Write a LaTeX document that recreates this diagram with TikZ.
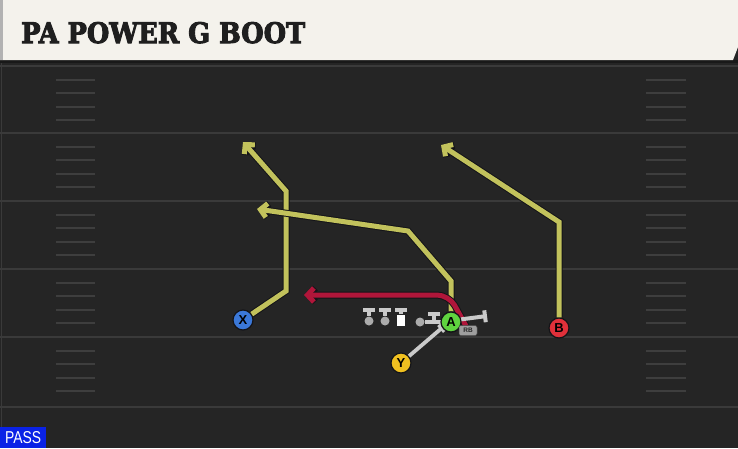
\documentclass[tikz,border=0pt]{standalone}
\usepackage{fontspec}
\setmainfont{Liberation Sans}
\newfontfamily\titlefont{DejaVu Serif}[FakeBold=3.5]
\usetikzlibrary{arrows.meta}
\definecolor{bg}{HTML}{252525}
\definecolor{yardc}{HTML}{3A3A3A}
\definecolor{hashc}{HTML}{3E3E3E}
\definecolor{headc}{HTML}{F4F2EC}
\definecolor{routey}{HTML}{C2C25C}
\definecolor{router}{HTML}{B0163A}
\definecolor{outl}{HTML}{141418}
\definecolor{olc}{HTML}{CACACA}
\definecolor{pblue}{HTML}{3B78D8}
\definecolor{pgreen}{HTML}{5FD33F}
\definecolor{pred}{HTML}{E0303A}
\definecolor{pyellow}{HTML}{F0C020}
\definecolor{passblue}{HTML}{0A22E6}
\tikzset{
  yard/.style={draw=yardc, line width=2pt},
  hash/.style={draw=hashc, line width=2pt},
  routeout/.style={draw=outl, line width=7pt, line join=miter, -{Straight Barb[length=6.5pt,width=14pt]}},
  routein/.style={line width=5pt, line join=miter, -{Straight Barb[length=6.5pt,width=14pt]}},
  block/.style={draw=olc, line width=4pt, -{Bar[width=12pt]}},
  olman/.style={circle, fill=olc!85!black, inner sep=0pt, minimum size=9pt},
  player/.style={circle, draw=outl, line width=1.2pt, inner sep=0pt, minimum size=20pt,
     font=\bfseries\fontsize{13}{13}\selectfont, text=black},
}
\begin{document}
\begin{tikzpicture}[x=1pt,y=-1pt]
\useasboundingbox (0,0) rectangle (738,448);
\fill[bg] (0,0) rectangle (738,448);
% field lines
\foreach \y in {66,133,201,269,337,407} \draw[yard] (0,\y) -- (738,\y);
\draw[draw=yardc, line width=1pt] (1.5,60) -- (1.5,448);
\foreach \y in {66,133,201,269,337} {
  \foreach \k in {1,...,4} {
    \draw[hash] (56,\y+13.5*\k) -- (95,\y+13.5*\k);
    \draw[hash] (646,\y+13.5*\k) -- (686,\y+13.5*\k);
  }
}
% header
\fill[black!90] (0,60) rectangle (738,63);
\fill[headc] (0,0) -- (738,0) -- (738,47) -- (733,60) -- (0,60) -- cycle;
\fill[black!30] (0,0) rectangle (3,60);
\node[anchor=base west, inner sep=0pt, text=black!88] (title) at (21,43)
  {\resizebox{284pt}{21pt}{\titlefont\bfseries PA POWER G BOOT}};
% players
\node[player, fill=pblue] (X) at (243,320) {X};
\node[player, fill=pgreen] (A) at (451,322) {A};
\node[player, fill=pred] (B) at (559,328) {B};
\node[player, fill=pyellow] (Y) at (401,363) {Y};
% route coordinates
\coordinate (x1) at (286,291);
\coordinate (x2) at (286,191);
\coordinate (x3) at (243,142);
\coordinate (a1) at (451,281);
\coordinate (a2) at (408,231);
\coordinate (a3) at (257,209);
\coordinate (b1) at (559,222);
\coordinate (b2) at (441,145);
\coordinate (rb) at (466,326);
\coordinate (r1) at (449,295);
\coordinate (r2) at (304,295);
\coordinate (yb) at (443,327);
% routes
\draw[routeout] (X) -- (x1) -- (x2) -- (x3);
\draw[routein, draw=routey] (X) -- (x1) -- (x2) -- (x3);
\draw[routeout] (A) -- (a1) -- (a2) -- (a3);
\draw[routein, draw=routey] (A) -- (a1) -- (a2) -- (a3);
\draw[routeout] (B) -- (b1) -- (b2);
\draw[routein, draw=routey] (B) -- (b1) -- (b2);
\draw[routeout, rounded corners=12pt] (rb) -- (r1) -- (r2);
\draw[routein, draw=router, rounded corners=12pt] (rb) -- (r1) -- (r2);
% offensive line
\node[olman] (lt) at (369,321) {};
\node[olman] (lg) at (385,321) {};
\node[fill=white, inner sep=0pt, minimum width=8pt, minimum height=11pt] (c) at (401,320) {};
\node[olman] (rg) at (420,322) {};
\coordinate (rt) at (434,322);
\coordinate (te) at (456,320);
\coordinate (lt1) at (369,308);
\coordinate (lg1) at (385,308);
\coordinate (c1) at (401,308);
\coordinate (rg1) at (447,322);
\coordinate (rt1) at (434,312);
\coordinate (te1) at (487,316);
\draw[block] (lt) -- (lt1);
\draw[block] (lg) -- (lg1);
\draw[block] (c) -- (c1);
\draw[draw=olc, line width=4pt] (rg) -- (rg1);
\draw[block] (rt) -- (rt1);
\draw[block] (te) -- (te1);
\draw[draw=olc, line width=3.8pt, -{Bar[width=9pt]}] (Y) -- (yb);
% redraw A on top
\node[player, fill=pgreen] at (451,322) {A};
\node[fill=black!38, draw=black!70, line width=0.5pt, rounded corners=2pt, minimum width=18pt, minimum height=10pt, inner sep=0pt,
  font=\bfseries\fontsize{6.5}{6.5}\selectfont, text=black!85] (rbtag) at (468,330.5) {RB};
% pass label
\node[fill=passblue, anchor=south west, minimum width=46pt, minimum height=21pt, inner sep=0pt, text=white] (pass) at (0,448)
  {\resizebox{36pt}{12pt}{PASS}};
\end{tikzpicture}
\end{document}
